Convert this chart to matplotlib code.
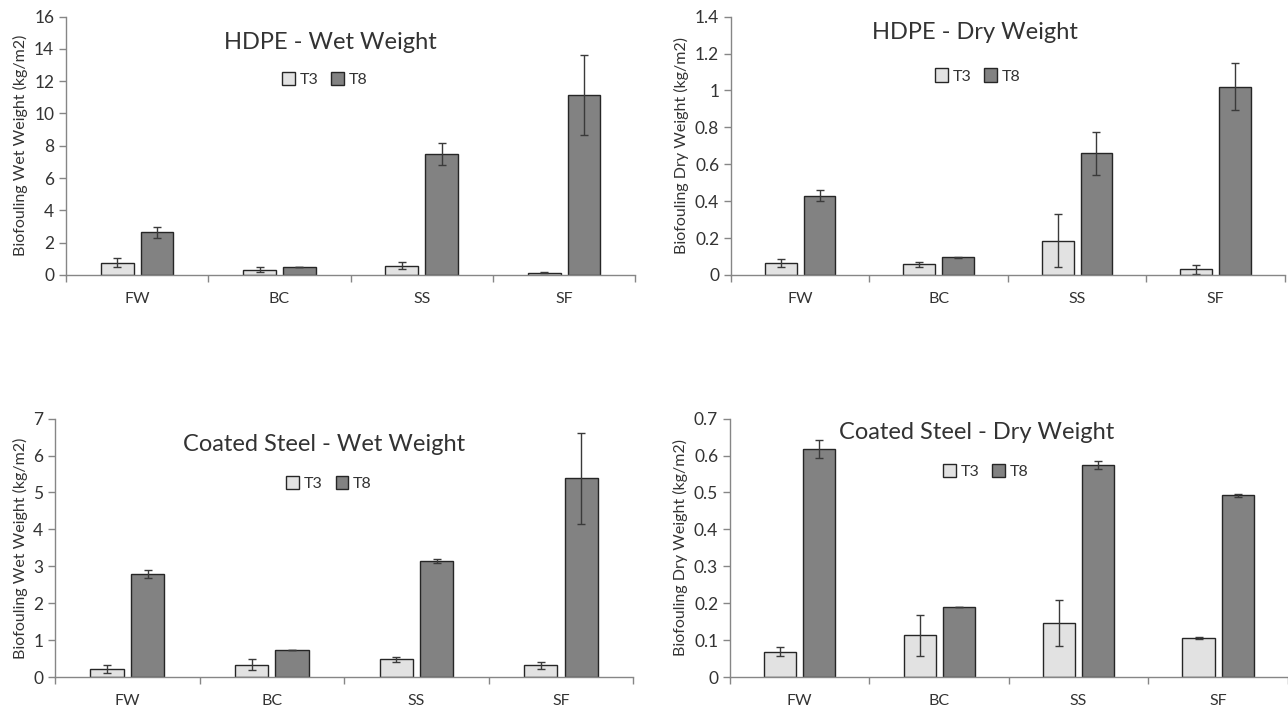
import numpy as np
import matplotlib
matplotlib.use("Agg")
import matplotlib.pyplot as plt
from matplotlib.ticker import FixedLocator

plt.rcParams["font.family"] = ["Lato", "DejaVu Sans"]

sites = ["FW", "BC", "SS", "SF"]
series = ["T3", "T8"]

# HDPE - wet weight (kg/m2)
hdpe_wet_t3 = [0.75, 0.32, 0.58, 0.15]
hdpe_wet_t3_err = [0.28, 0.15, 0.20, 0.05]
hdpe_wet_t8 = [2.65, 0.50, 7.50, 11.15]
hdpe_wet_t8_err = [0.35, 0.02, 0.68, 2.50]

# HDPE - dry weight
hdpe_dry_t3 = [0.067, 0.058, 0.185, 0.030]
hdpe_dry_t3_err = [0.022, 0.015, 0.143, 0.022]
hdpe_dry_t8 = [0.430, 0.095, 0.660, 1.020]
hdpe_dry_t8_err = [0.030, 0.002, 0.117, 0.128]

# Coated steel - wet weight
cs_wet_t3 = [0.22, 0.33, 0.48, 0.32]
cs_wet_t3_err = [0.12, 0.15, 0.07, 0.09]
cs_wet_t8 = [2.78, 0.73, 3.15, 5.38]
cs_wet_t8_err = [0.11, 0.01, 0.06, 1.24]

# Coated steel - dry weight
cs_dry_t3 = [0.069, 0.113, 0.147, 0.106]
cs_dry_t3_err = [0.012, 0.056, 0.062, 0.003]
cs_dry_t8 = [0.618, 0.190, 0.574, 0.493]
cs_dry_t8_err = [0.025, 0.001, 0.011, 0.004]

panels = [
    # title, ylabel, data, ylim, ystep, rect, title pos, legend pos
    ("HDPE - Wet Weight", "Biofouling Wet Weight (kg/m2)",
     (hdpe_wet_t3, hdpe_wet_t3_err, hdpe_wet_t8, hdpe_wet_t8_err),
     16, 2, [0.0512, 0.6105, 0.442, 0.366], (0.465, 0.90), (0.455, 0.756)),
    ("HDPE - Dry Weight", "Biofouling Dry Weight (kg/m2)",
     (hdpe_dry_t3, hdpe_dry_t3_err, hdpe_dry_t8, hdpe_dry_t8_err),
     1.4, 0.2, [0.5675, 0.6105, 0.430, 0.366], (0.44, 0.94), (0.446, 0.77)),
    ("Coated Steel - Wet Weight", "Biofouling Wet Weight (kg/m2)",
     (cs_wet_t3, cs_wet_t3_err, cs_wet_t8, cs_wet_t8_err),
     7, 1, [0.0427, 0.041, 0.449, 0.366], (0.465, 0.90), (0.474, 0.75)),
    ("Coated Steel - Dry Weight", "Biofouling Dry Weight (kg/m2)",
     (cs_dry_t3, cs_dry_t3_err, cs_dry_t8, cs_dry_t8_err),
     0.7, 0.1, [0.5668, 0.041, 0.433, 0.366], (0.443, 0.946), (0.458, 0.795)),
]

fig = plt.figure(figsize=(12.88, 7.06), dpi=100)
x = np.arange(len(sites))
w = 0.23
spine_c = "#868686"
text_c = "#333333"

for title, ylabel, (t3, t3e, t8, t8e), ymax, step, rect, tpos, lpos in panels:
    ax = fig.add_axes(rect)
    ax.bar(x - 0.14, t3, w, color="#e2e2e2", edgecolor="#262626", linewidth=1.0, label="T3")
    ax.bar(x + 0.14, t8, w, color="#828282", edgecolor="#262626", linewidth=1.0, label="T8")
    ax.errorbar(x - 0.14, t3, yerr=t3e, fmt="none", ecolor="#3a3a3a", elinewidth=1.0, capsize=3, capthick=1.0)
    ax.errorbar(x + 0.14, t8, yerr=t8e, fmt="none", ecolor="#3a3a3a", elinewidth=1.0, capsize=3, capthick=1.0)

    ax.set_xlim(-0.5, len(sites) - 0.5)
    ax.set_ylim(0, ymax)
    yt = np.arange(0, ymax + step / 2, step)
    ax.set_yticks(yt)
    ax.set_yticklabels(["%g" % round(v, 2) for v in yt])
    ax.set_xticks(x)
    ax.set_xticklabels(sites)
    ax.xaxis.set_minor_locator(FixedLocator(np.arange(-0.5, len(sites), 1.0)))
    ax.tick_params(axis="x", which="major", length=0, pad=12, labelsize=11.5, colors=text_c)
    ax.tick_params(axis="x", which="minor", length=5, width=1.0, color=spine_c)
    ax.tick_params(axis="y", length=5, width=1.0, color=spine_c, labelsize=12.5, labelcolor=text_c)

    for s in ["top", "right"]:
        ax.spines[s].set_visible(False)
    for s in ["left", "bottom"]:
        ax.spines[s].set_color(spine_c)
        ax.spines[s].set_linewidth(1.0)

    ax.set_ylabel(ylabel, fontsize=11.5, color=text_c, labelpad=4)
    ax.text(tpos[0], tpos[1], title, transform=ax.transAxes, ha="center", va="center",
            fontsize=17, color=text_c)
    ax.legend(loc="center", bbox_to_anchor=lpos, ncol=2, frameon=False, fontsize=11.5,
              handlelength=0.8, handleheight=0.9, handletextpad=0.3, columnspacing=0.8,
              labelcolor=text_c)

fig.savefig("out.png", dpi=100)
